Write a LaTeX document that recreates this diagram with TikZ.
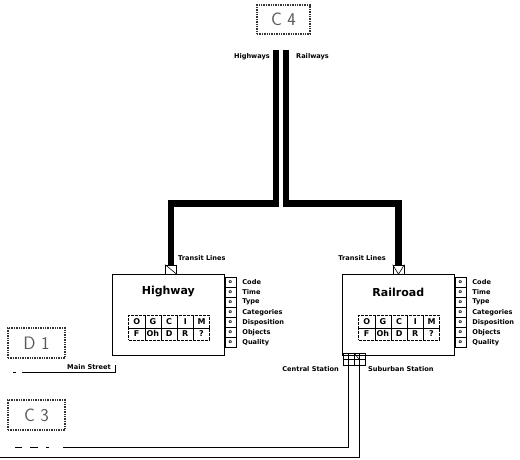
\documentclass[tikz,border=0pt]{standalone}
\usepackage{fontspec}
\usetikzlibrary{calc}
\newfontfamily\labfont{DejaVu Sans}

% One transit unit: box, title, code grid and attribute column
% #1 node name, #2 left x, #3 title
\newcommand{\unitblock}[3]{%
  \node[unitbox, anchor=north west] (#1) at (#2,274) {};
  \node[unittitle] (#1-title) at ($(#1.north)+(0,18)$) {#3};
  \foreach \l [count=\i from 0] in {O,G,C,I,M}
    \node[cell] (#1-a\i) at ($(#1.north)+(-40+16.2*\i,41)$) {\l};
  \foreach \l [count=\i from 0] in {F,Oh,D,R,?}
    \node[cell] (#1-b\i) at ($(#1.north)+(-40+16.2*\i,53.5)$) {\l};
  \foreach \t [count=\i from 0] in {Code,Time,Type,Categories,Disposition,Objects,Quality} {
    \node[attr] (#1-k\i) at ($(#1.north east)+(0,3+10*\i)$) {o};
    \node[lab, anchor=west] (#1-l\i) at ($(#1-k\i.east)+(6,0)$) {\t};
  }
}

\begin{document}
\begin{tikzpicture}[x=1pt,y=-1pt,
  lab/.style={font=\labfont\bfseries\fontsize{6.6}{7}\selectfont, inner sep=0pt},
  unittitle/.style={font=\labfont\bfseries\fontsize{11}{13}\selectfont, inner sep=0pt},
  refbox/.style={draw=black!80, line width=1.4pt, densely dotted, inner sep=0pt,
    font=\sffamily\fontsize{18}{18}\selectfont, text=black!65},
  unitbox/.style={draw, line width=0.7pt, minimum width=112pt, minimum height=81pt, inner sep=0pt},
  cell/.style={draw, line width=0.5pt, dash pattern=on 3pt off 1pt, anchor=north west,
    minimum width=16.2pt, minimum height=12.5pt, inner sep=0pt,
    font=\labfont\bfseries\fontsize{8}{9}\selectfont},
  attr/.style={draw, line width=0.5pt, anchor=north west, minimum width=11pt, minimum height=10pt,
    inner sep=0pt, font=\labfont\bfseries\fontsize{5}{5}\selectfont},
  port/.style={draw, fill=white, line width=0.6pt, minimum width=11pt, minimum height=9pt, inner sep=0pt},
  trunk/.style={line width=6.8pt, line join=miter},
  feed/.style={line width=0.6pt}
]
\useasboundingbox (0,0) rectangle (520,459);

% reference boxes
\node[refbox, minimum width=53pt, minimum height=29pt] (c4) at (283.5,19.5) {C 4};
\node[refbox, minimum width=57pt, minimum height=30pt] (d1) at (36.5,343) {D 1};
\node[refbox, minimum width=57pt, minimum height=30pt] (c3) at (36.5,415) {C 3};

% the two units
\unitblock{hw}{112}{Highway}
\unitblock{rr}{342}{Railroad}

% trunk lines
\coordinate (hwtop) at (276,50);
\coordinate (rrtop) at (286,50);
\coordinate (hwjoin) at (276,203.5);
\coordinate (rrjoin) at (286,203.5);
\node[port] (hwport) at (171,269.5) {};
\node[port] (rrport) at (398.5,269.5) {};
\draw[trunk] (hwtop) -- (hwjoin) -| (hwport.north);
\draw[trunk] (rrtop) -- (rrjoin) -| (rrport.north);
\node[port] at (hwport) {};
\node[port] at (rrport) {};
\draw[line width=0.6pt] (hwport.north west) -- (hwport.south east);
\draw[line width=0.6pt] (rrport.north west) -- (rrport.south) -- (rrport.north east);

\node[lab, anchor=east] (hwys) at (270,57) {Highways};
\node[lab, anchor=west] (rwys) at (296,57) {Railways};
\node[lab, anchor=west] (tlhw) at (178,258) {Transit Lines};
\node[lab, anchor=east] (tlrr) at (386,258) {Transit Lines};

% station connector under the railroad unit
\node[draw, line width=0.6pt, minimum width=22pt, minimum height=12pt, inner sep=0pt, anchor=north west] (stn) at (343,353) {};
\draw[line width=0.5pt] (stn.west) -- (stn.east);
\draw[line width=0.5pt] ($(stn.north west)+(5,0)$) -- ($(stn.south west)+(5,0)$);
\draw[line width=0.5pt] ($(stn.north west)+(11,0)$) -- ($(stn.south west)+(11,0)$);
\draw[line width=0.5pt] ($(stn.north west)+(16,0)$) -- ($(stn.south west)+(16,0)$);
\draw[line width=0.5pt] ($(stn.north west)+(11,0)$) -- ($(stn.north west)+(16,6)$);
\node[lab, anchor=east] (cst) at (339,369) {Central Station};
\node[lab, anchor=west] (sst) at (368,369) {Suburban Station};

\coordinate (cs) at ($(stn.south west)+(5,0)$);
\coordinate (ss) at ($(stn.south west)+(16,0)$);
\coordinate (cfar) at (70,447.5);
\coordinate (cend) at (6,447.5);
\coordinate (sfar) at (0,457.5);
\draw[feed] (cs) |- (cfar);
\draw[feed, dash pattern=on 7pt off 14pt on 3pt off 8pt on 8pt off 8pt] (cfar) -- (cend);
\draw[feed] (ss) |- (sfar);

% main street line
\coordinate (mstick) at (115,365);
\coordinate (msend) at (115,372.5);
\coordinate (msmid) at (25,372.5);
\coordinate (msfar) at (8,372.5);
\draw[feed] (mstick) -- (msend) -- (msmid);
\draw[feed, dash pattern=on 3pt off 6pt] (msmid) -- (msfar);
\node[lab, anchor=base east] (mst) at (111,369.5) {Main Street};
\end{tikzpicture}
\end{document}
